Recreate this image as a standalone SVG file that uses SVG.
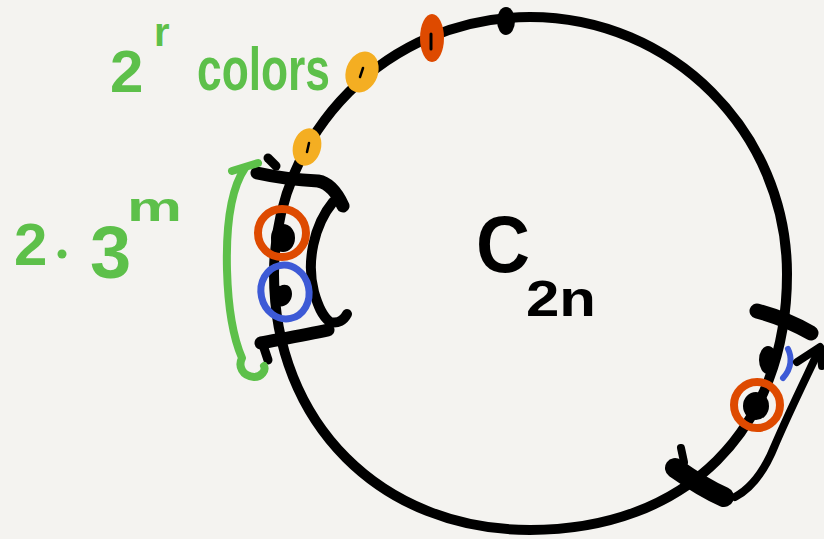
<svg xmlns="http://www.w3.org/2000/svg" width="824" height="539" viewBox="0 0 824 539">
<style>
.ink{fill:none;stroke:#000;stroke-linecap:round;stroke-linejoin:round}
.grn{fill:none;stroke:#5DC04A;stroke-width:8;stroke-linecap:round;stroke-linejoin:round}
.gtxt{fill:#5DC04A;font-family:"Liberation Sans",Arial,sans-serif;font-weight:bold}
.btxt{fill:#000;font-family:"Liberation Sans",Arial,sans-serif;font-weight:bold}
</style>
<rect width="824" height="539" fill="#F4F3F0"/>
<g id="cycle">
<path class="ink" stroke-width="10" d="M530,17 C672,17 787,132 787,274 C787,430 686,530 530,530 C381,530 274,423 274,274 C274,132 388,17 530,17 Z"/>
</g>
<g id="top-dots">
<ellipse cx="506" cy="21" rx="9" ry="14" fill="#000"/>
<ellipse cx="432" cy="38" rx="12" ry="24" fill="#DE4A00"/>
<path d="M431,34 L431,49" stroke="#000" stroke-width="3" stroke-linecap="round"/>
<ellipse cx="362" cy="72" rx="16" ry="21" fill="#F4AE22" transform="rotate(20 362 72)"/>
<path d="M363,68 L360,77" stroke="#000" stroke-width="2.5" stroke-linecap="round"/>
<ellipse cx="307" cy="147" rx="14" ry="19" fill="#F4AE22" transform="rotate(15 307 147)"/>
<path d="M309,143 L307,152" stroke="#000" stroke-width="2.5" stroke-linecap="round"/>
</g>
<g id="left-window">
<path class="ink" stroke-width="13" d="M257,173 C275,177 298,180 318,181 C330,183 338,195 343,206"/>
<path class="ink" stroke-width="9" d="M268,158 L276,166"/>
<path class="ink" stroke-width="10" d="M333,202 C314,225 306,262 314,292 C318,306 322,316 330,322 C338,324 344,320 347,314"/>
<path class="ink" stroke-width="13" d="M261,343 C282,339 305,335 328,330"/>
<path class="ink" stroke-width="9" d="M264,348 L268,360"/>
<ellipse cx="283" cy="238" rx="12" ry="14" fill="#000"/>
<circle cx="282" cy="233" r="24" fill="none" stroke="#DE4A00" stroke-width="8"/>
<path d="M280,286 C271,284 269,298 275,304 C281,310 292,304 292,294 C292,286 286,283 280,286 Z" fill="#000"/>
<ellipse cx="285" cy="292" rx="24" ry="27" fill="none" stroke="#3D5AD6" stroke-width="7" transform="rotate(-12 285 292)"/>
</g>
<g id="right-window">
<path class="ink" stroke-width="15" d="M757,311 C772,315 790,321 811,333"/>
<ellipse cx="768" cy="360" rx="9" ry="14" fill="#000"/>
<path d="M788,349 C792,357 792,368 783,378" fill="none" stroke="#3D5AD6" stroke-width="6" stroke-linecap="round"/>
<ellipse cx="756" cy="406" rx="13" ry="14" fill="#000"/>
<circle cx="757" cy="405" r="23" fill="none" stroke="#DE4A00" stroke-width="8"/>
<path class="ink" stroke-width="20" d="M675,468 C692,480 708,490 724,497"/>
<path class="ink" stroke-width="8" d="M681,448 L684,462"/>
</g>
<g id="connectors">
<path class="ink" stroke-width="8" d="M735,497 C752,488 765,470 775,445 C790,410 805,380 820,348"/>
<path class="ink" stroke-width="8" d="M797,362 L820,347 L822,366"/>
<path class="grn" d="M232,171 L258,163"/>
<path class="grn" d="M245,168 C230,190 226,230 227,270 C228,305 232,335 242,358 C238,366 242,376 254,377 C262,377 266,370 264,366"/>
</g>
<g id="labels">
<text class="gtxt" x="110" y="92" font-size="60">2</text>
<text class="gtxt" x="154" y="46" font-size="40">r</text>
<text class="gtxt" x="197" y="90" font-size="62" textLength="133" lengthAdjust="spacingAndGlyphs">colors</text>
<text class="gtxt" x="14" y="265" font-size="60">2</text>
<circle cx="62" cy="254" r="4.5" fill="#5DC04A"/>
<text class="gtxt" x="90" y="278" font-size="74">3</text>
<text class="gtxt" x="127" y="221" font-size="40" textLength="55" lengthAdjust="spacingAndGlyphs">m</text>
<text class="btxt" x="476" y="272" font-size="80" textLength="54" lengthAdjust="spacingAndGlyphs">C</text>
<text class="btxt" x="526" y="316" font-size="50" textLength="70" lengthAdjust="spacingAndGlyphs">2n</text>
</g>
</svg>
